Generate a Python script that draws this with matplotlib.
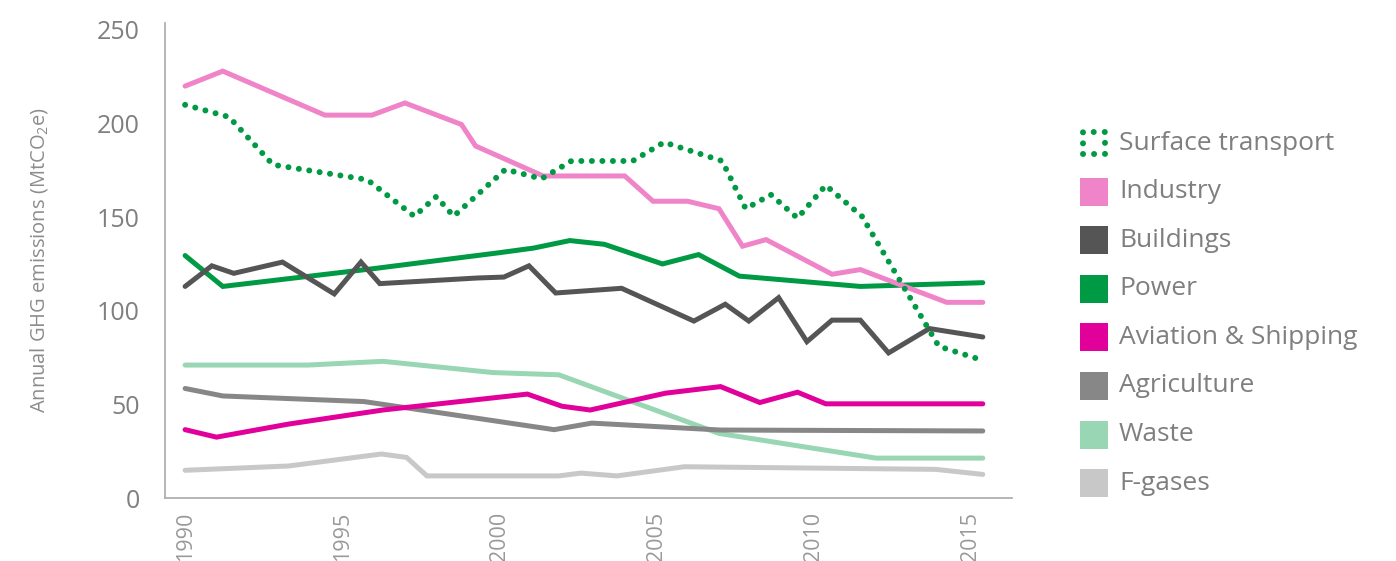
import matplotlib.pyplot as plt
from matplotlib.patches import Rectangle

plt.rcParams['font.family'] = ['Open Sans', 'DejaVu Sans']
plt.rcParams['mathtext.fontset'] = 'custom'
plt.rcParams['mathtext.rm'] = 'Open Sans'

# values (year, MtCO2e)
transport_x = [1990, 1991.4, 1992.8, 1995.8, 1997.3, 1998.0, 1998.55, 2000.2, 2001.35, 2002.3,
               2004.25, 2005.25, 2007.1, 2007.85, 2008.65, 2009.5, 2010.4, 2011.55, 2013.7, 2014.0, 2015.4]
transport_y = [210, 203.5, 178, 170, 150.5, 161, 150.5, 175.5, 170.5, 180,
               180, 190, 180, 154.5, 162, 149.5, 167, 150.5, 89.5, 81, 73.5]

industry_x = [1990, 1991.2, 1994.45, 1995.95, 1997.0, 1998.8, 1999.25, 2001.4, 2004.0, 2004.9,
              2006.0, 2007.0, 2007.75, 2008.5, 2010.6, 2011.5, 2014.25, 2015.4]
industry_y = [220, 228, 204.5, 204.5, 211, 199.5, 188, 172, 172, 158.5,
              158.5, 154.5, 134.5, 138, 119.5, 122, 104.5, 104.5]

buildings_x = [1990, 1990.85, 1991.55, 1993.1, 1994.75, 1995.6, 1996.2, 1999.3, 2000.15, 2000.95,
               2001.8, 2003.9, 2006.2, 2007.2, 2007.95, 2008.9, 2009.8, 2010.6, 2011.5, 2012.4,
               2013.7, 2015.4]
buildings_y = [113, 124, 120, 126, 109, 126, 114.5, 117.5, 118, 124,
               109.5, 112, 94.5, 103.5, 94.5, 107, 83.5, 95, 95, 77.5,
               90.5, 86]

power_x = [1990, 1991.2, 1996.0, 2000.0, 2001.1, 2002.25, 2003.35, 2005.2, 2006.35, 2007.65, 2011.5, 2015.4]
power_y = [129.5, 113, 122.5, 131, 133.5, 137.5, 135.5, 125, 130, 118.5, 113, 115]

aviation_x = [1990, 1991.0, 1993.3, 1996.3, 2000.9, 2002.0, 2002.9, 2005.3, 2007.05, 2008.3, 2009.5, 2010.4, 2015.4]
aviation_y = [36.5, 32.5, 39.5, 47, 55.5, 49, 47, 56, 59.5, 51, 56.5, 50.3, 50.3]

agriculture_x = [1990, 1991.2, 1995.7, 2001.75, 2002.95, 2007.05, 2015.4]
agriculture_y = [58.5, 54.5, 51.5, 36.5, 40, 36.3, 35.8]

waste_x = [1990, 1993.9, 1996.3, 1999.8, 2001.9, 2007.0, 2012.0, 2015.4]
waste_y = [71, 71, 73, 67, 65.8, 34.5, 21.3, 21.3]

fgas_x = [1990, 1993.3, 1996.25, 1997.05, 1997.7, 2001.9, 2002.6, 2003.75, 2005.9, 2013.9, 2015.4]
fgas_y = [14.8, 17.1, 23.5, 21.7, 11.8, 11.8, 13.3, 11.8, 16.7, 15.3, 12.6]

green = '#009A44'
series = [
    ('F-gases', fgas_x, fgas_y, '#C8C8C8'),
    ('Waste', waste_x, waste_y, '#99D6B3'),
    ('Agriculture', agriculture_x, agriculture_y, '#878787'),
    ('Aviation & Shipping', aviation_x, aviation_y, '#E2009A'),
    ('Power', power_x, power_y, green),
    ('Buildings', buildings_x, buildings_y, '#555555'),
    ('Industry', industry_x, industry_y, '#F084C8'),
]

W, H = 1396, 561
fig = plt.figure(figsize=(W / 100, H / 100), dpi=100)
ax = fig.add_axes([165 / W, 1 - 498 / H, (1012 - 165) / W, (498 - 23) / H])

for name, xs, ys, c in series:
    ax.plot(xs, ys, color=c, lw=3.6, solid_joinstyle='miter', solid_capstyle='round')
ax.plot(transport_x, transport_y, color=green, lw=4.3, linestyle=(0, (0.01, 1.75)),
        dash_capstyle='round')

ax.set_xlim(1989.36, 2016.33)
ax.set_ylim(0, 253.7)
ax.set_yticks([0, 50, 100, 150, 200, 250])
ax.set_xticks([1990, 1995, 2000, 2005, 2010, 2015])
ax.tick_params(axis='y', length=0, pad=18, labelsize=18, labelcolor='#7F7F7F')
ax.tick_params(axis='x', length=0, pad=10, labelsize=15.5, labelcolor='#999999', labelrotation=90)
for s in ['top', 'right']:
    ax.spines[s].set_visible(False)
for s in ['left', 'bottom']:
    ax.spines[s].set_color('#B0B0B0')
    ax.spines[s].set_linewidth(1.3)
ax.set_ylabel('Annual GHG emissions (MtCO$_2$e)', fontsize=14.5, color='#8C8C8C', labelpad=34)

# legend, drawn in figure pixels
legend_names = ['Surface transport', 'Industry', 'Buildings', 'Power',
                'Aviation & Shipping', 'Agriculture', 'Waste', 'F-gases']
colors = {name: c for name, xs, ys, c in series}
row0, step = 143, 48.6
for i, name in enumerate(legend_names):
    yc = row0 + i * step
    if name == 'Surface transport':
        box = Rectangle(((1083) / W, 1 - (yc + 11) / H), 22 / W, 22 / H, transform=fig.transFigure,
                        facecolor='none', edgecolor=green, lw=4.3, linestyle=(0, (0.01, 1.84)),
                        capstyle='round')
    else:
        box = Rectangle((1080 / W, 1 - (yc + 14) / H), 28 / W, 28 / H, transform=fig.transFigure,
                        facecolor=colors[name], edgecolor='none')
    fig.add_artist(box)
    fig.text(1119 / W, 1 - yc / H, name, fontsize=19, color='#7F7F7F', va='center', ha='left')

fig.savefig('out.png', dpi=100)
